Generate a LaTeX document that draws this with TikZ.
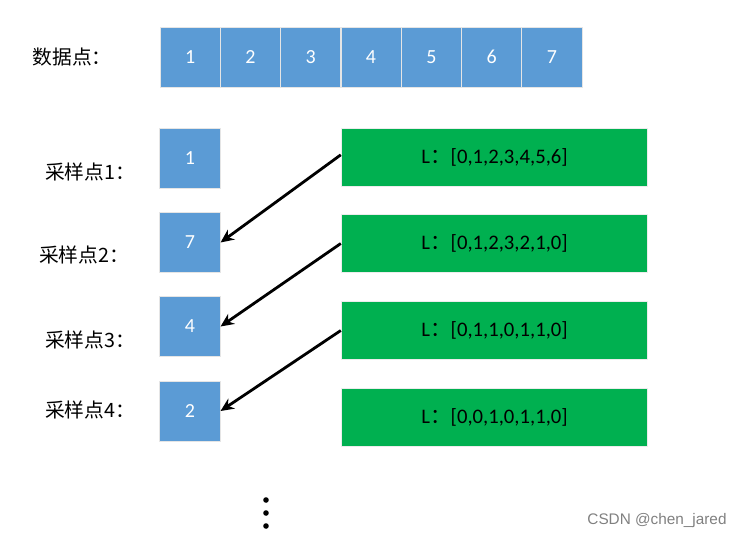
\documentclass[tikz,border=0pt]{standalone}
\usepackage{fontspec}
\setmainfont{Carlito}
\newfontfamily\cjk{Noto Sans CJK SC}
\newfontfamily\wmfont{Liberation Sans}
\usetikzlibrary{arrows.meta}
\definecolor{cellblue}{HTML}{5B9BD5}
\definecolor{listgreen}{HTML}{00B050}
\begin{document}
\begin{tikzpicture}[x=0.75pt, y=-0.75pt]
\tikzstyle{cell}=[rectangle, fill=cellblue, draw=white!80!gray, line width=0.6pt, text=white,
    minimum width=45.2pt, minimum height=45pt, inner sep=0pt, font=\fontsize{15}{17}\selectfont]
\tikzstyle{list}=[rectangle, fill=listgreen, draw=white!85!gray, line width=0.6pt,
    minimum width=230pt, minimum height=43pt, inner sep=0pt, font=\fontsize{15.5}{18}\selectfont]
\tikzstyle{lab}=[font=\cjk\fontsize{14.8}{17}\selectfont, inner sep=0pt]
\tikzstyle{link}=[line width=2.1pt, -{Stealth[length=10pt, width=9pt]}]
\useasboundingbox (0,0) rectangle (741,539);
    % data points
    \node [lab] (data) at (72,57) {数据点：};
    \foreach \i in {1,...,7}
        \node [cell] (d\i) at ({160+60.3*(\i-0.5)},57) {\i};
    % samples
    \node [cell] (s1) at (190,158.5) {1};
    \node [cell] (s2) at (190,242.5) {7};
    \node [cell] (s3) at (190,326.5) {4};
    \node [cell] (s4) at (190,411) {2};
    \node [lab] (l1) at (90,172) {采样点1：};
    \node [lab] (l2) at (84,255) {采样点2：};
    \node [lab] (l3) at (90,340) {采样点3：};
    \node [lab] (l4) at (90,410) {采样点4：};
    % lists
    \node [list] (g1) at (494.5,157.5) {L{\cjk ：}[0,1,2,3,4,5,6]};
    \node [list] (g2) at (494.5,243.5) {L{\cjk ：}[0,1,2,3,2,1,0]};
    \node [list] (g3) at (494.5,330.5) {L{\cjk ：}[0,1,1,0,1,1,0]};
    \node [list] (g4) at (494.5,417.5) {L{\cjk ：}[0,0,1,0,1,1,0]};
    \draw [link] ([yshift=2pt]g1.west) -- (s2.east);
    \draw [link] (g2.west) -- (s3.east);
    \draw [link] (g3.west) -- (s4.east);
    % more
    \foreach \y in {500,513,526}
        \fill (266,\y) circle (2.1pt);
    \node [text=gray, font=\wmfont\fontsize{11.5}{13}\selectfont] (wm) at (657,521) {CSDN @chen\_jared};
\end{tikzpicture}
\end{document}
